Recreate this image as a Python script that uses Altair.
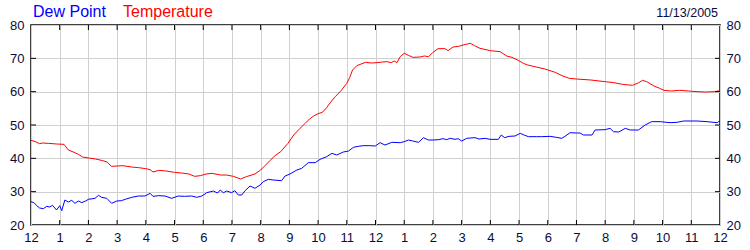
import altair as alt
import pandas as pd

# ---------------- data ----------------
temp_hours = [0.0, 0.15, 0.3, 0.4, 0.6, 0.9, 1.15, 1.3, 1.5, 1.65, 1.8, 2.0, 2.25, 2.5, 2.65, 2.8,
              3.0, 3.2, 3.5, 3.75, 4.0, 4.15, 4.25, 4.45, 4.7, 5.0, 5.25, 5.5, 5.7, 5.9, 6.1, 6.3,
              6.6, 6.8, 7.05, 7.3, 7.5, 7.8, 8.0, 8.15, 8.33, 8.5, 8.7, 8.95, 9.15, 9.37, 9.55, 9.7,
              9.85, 10.0, 10.15, 10.3, 10.45, 10.6, 10.8, 11.0, 11.1, 11.2, 11.35, 11.5, 11.65, 11.85,
              12.05, 12.25, 12.4, 12.55, 12.65, 12.75, 12.86, 13.0, 13.15, 13.3, 13.55, 13.7, 13.85,
              14.0, 14.18, 14.42, 14.53, 14.7, 14.9, 15.05, 15.3, 15.45, 15.64, 15.85, 16.0, 16.34,
              16.57, 16.75, 16.97, 17.15, 17.3, 17.6, 17.9, 18.26, 18.5, 18.75, 19.0, 19.5, 20.0,
              20.3, 20.6, 20.95, 21.15, 21.3, 21.45, 21.7, 21.9, 22.05, 22.3, 22.6, 22.9, 23.2, 23.5,
              23.8, 24.0]
temp_values = [45.4, 45.0, 44.4, 44.6, 44.5, 44.3, 44.2, 42.5, 41.8, 41.2, 40.4, 40.1, 39.8, 39.3, 38.9, 37.6,
               37.7, 37.8, 37.4, 37.2, 36.9, 36.6, 35.9, 36.4, 36.2, 35.8, 35.6, 35.3, 34.6, 34.8, 35.3, 35.5,
               35.0, 35.0, 34.6, 33.8, 34.5, 35.3, 36.5, 37.8, 39.4, 40.8, 42.0, 44.5, 47.0, 49.0, 50.5, 51.8,
               52.7, 53.4, 53.8, 55.2, 57.0, 58.5, 60.3, 62.5, 64.2, 66.5, 67.8, 68.3, 68.8, 68.6,
               68.7, 68.9, 69.0, 68.7, 69.2, 68.7, 70.5, 71.5, 70.9, 70.3, 70.4, 70.7, 70.5,
               71.8, 72.9, 72.9, 72.3, 73.4, 73.6, 74.0, 74.5, 73.8, 73.0, 72.6, 72.3, 72.0,
               70.7, 70.3, 69.4, 68.5, 68.0, 67.4, 66.8, 65.8, 64.8, 64.0, 63.8, 63.5, 63.0,
               62.7, 62.2, 61.9, 62.6, 63.4, 63.0, 61.7, 61.0, 60.4, 60.2, 60.4, 60.2, 60.0, 59.9,
               60.0, 60.3]

dew_hours = [0.0, 0.1, 0.2, 0.3, 0.43, 0.55, 0.65, 0.75, 0.89, 1.0, 1.07, 1.18, 1.3, 1.42, 1.53, 1.65,
             1.77, 1.9, 2.0, 2.23, 2.35, 2.46, 2.64, 2.81, 2.99, 3.15, 3.28, 3.51, 3.74, 3.97, 4.15,
             4.25, 4.45, 4.67, 4.9, 5.13, 5.35, 5.6, 5.77, 5.95, 6.06, 6.12, 6.35, 6.5, 6.59, 6.7,
             6.82, 6.99, 7.1, 7.22, 7.34, 7.46, 7.63, 7.8, 7.98, 8.09, 8.27, 8.44, 8.73, 8.85, 9.02,
             9.26, 9.43, 9.66, 9.9, 10.07, 10.3, 10.48, 10.65, 10.88, 11.06, 11.23, 11.4, 11.58, 11.8,
             11.99, 12.16, 12.33, 12.57, 12.86, 13.0, 13.15, 13.3, 13.5, 13.67, 13.84, 14.0, 14.2,
             14.35, 14.48, 14.6, 14.77, 14.88, 15.0, 15.18, 15.3, 15.47, 15.6, 15.82, 15.99, 16.28,
             16.38, 16.5, 16.65, 16.86, 17.04, 17.2, 17.33, 17.6, 17.79, 18.08, 18.3, 18.49, 18.6,
             18.78, 19.0, 19.13, 19.24, 19.54, 19.65, 20.0, 20.17, 20.29, 20.47, 20.7, 20.87, 21.16,
             21.39, 21.62, 21.92, 22.26, 22.5, 22.73, 23.2, 23.55, 23.9, 24.0]
dew_values = [27.0, 26.7, 25.8, 25.1, 24.9, 25.6, 25.4, 25.9, 24.5, 25.8, 24.3, 27.5, 26.9, 27.4, 26.5, 27.2,
              26.7, 27.2, 27.7, 28.0, 28.9, 28.3, 28.0, 26.5, 27.2, 27.3, 27.7, 28.3, 28.7, 28.7, 29.5,
              28.6, 28.8, 28.7, 28.0, 28.7, 28.6, 28.7, 28.3, 28.7, 29.3, 29.7, 30.2, 29.6, 30.5, 29.7,
              30.2, 29.7, 30.3, 29.0, 29.0, 30.3, 31.7, 31.0, 32.0, 33.0, 33.7, 33.5, 33.3, 34.7, 35.3,
              36.5, 37.0, 38.7, 38.7, 39.7, 40.5, 41.5, 41.0, 41.9, 42.2, 43.3, 43.6, 43.8, 43.8,
              43.7, 44.7, 44.0, 44.8, 44.7, 45.0, 45.5, 45.2, 44.8, 46.2, 45.5, 45.5, 45.6,
              45.9, 45.6, 46.0, 45.7, 45.9, 45.2, 46.0, 46.1, 46.2, 45.8, 46.0, 45.7, 45.7,
              47.0, 46.2, 46.6, 46.7, 47.5, 46.9, 46.5, 46.5, 46.5, 46.6, 46.3, 46.0, 46.6,
              47.7, 47.6, 47.6, 47.0, 47.0, 48.5, 48.6, 49.0, 48.0, 47.9, 49.0, 48.5, 48.5,
              50.0, 51.0, 51.0, 50.7, 50.8, 51.2, 51.2, 51.0, 50.7, 51.3]

hour_ticks = list(range(0, 25))
inner_hour_ticks = list(range(1, 24))
y_ticks = [20, 30, 40, 50, 60, 70, 80]
inner_y_ticks = [30, 40, 50, 60, 70]
series_labels = ["Dew Point", "Temperature"]
date_label = "11/13/2005"

temp_df = pd.DataFrame({"h": temp_hours, "v": temp_values})
dew_df = pd.DataFrame({"h": dew_hours, "v": dew_values})
hx_df = pd.DataFrame({"h": inner_hour_ticks})
vy_df = pd.DataFrame({"v": inner_y_ticks})

FONT = "Liberation Sans"
LABEL_COLOR = "#0b0b3b"
GRID = "#d0d0d0"

xscale = alt.Scale(domain=[0, 24], nice=False, zero=False)
yscale = alt.Scale(domain=[20, 80], nice=False, zero=False)

x_axis = alt.Axis(values=hour_ticks,
                  labelExpr="datum.value % 12 == 0 ? '12' : '' + (datum.value % 12)",
                  title=None, domain=False, ticks=False, grid=True, gridColor=GRID,
                  labelPadding=6, labelFontSize=13, labelFont=FONT, labelColor=LABEL_COLOR,
                  labelFlush=False, labelOverlap=False)
y_left = alt.Axis(values=y_ticks, orient="left", title=None, domain=False, ticks=False,
                  grid=True, gridColor=GRID, labelPadding=7, labelFontSize=13, labelFont=FONT,
                  labelColor=LABEL_COLOR, labelFlush=False)
y_right = alt.Axis(values=y_ticks, orient="right", title=None, domain=False, ticks=False,
                   grid=False, labelPadding=6, labelFontSize=13, labelFont=FONT,
                   labelColor=LABEL_COLOR, labelFlush=False)

X = alt.X("h:Q", scale=xscale, axis=x_axis)

temp_line = alt.Chart(temp_df).mark_line(color="#ff0000", strokeWidth=1).encode(
    x=X,
    y=alt.Y("v:Q", scale=yscale, axis=y_left),
)
dew_line = alt.Chart(dew_df).mark_line(color="#0000ff", strokeWidth=1).encode(
    x=X,
    y=alt.Y("v:Q", scale=yscale, axis=y_right),
)

# inward tick marks on the frame
top_ticks = alt.Chart(hx_df).mark_rule(color="black", strokeWidth=1).encode(
    x=X, y=alt.value(0), y2=alt.value(5))
bottom_ticks = alt.Chart(hx_df).mark_rule(color="black", strokeWidth=1).encode(
    x=X, y=alt.value(200), y2=alt.value(195))
left_ticks = alt.Chart(vy_df).mark_rule(color="black", strokeWidth=1).encode(
    y=alt.Y("v:Q", scale=yscale, axis=None), x=alt.value(0), x2=alt.value(5))
right_ticks = alt.Chart(vy_df).mark_rule(color="black", strokeWidth=1).encode(
    y=alt.Y("v:Q", scale=yscale, axis=None), x=alt.value(689), x2=alt.value(684))

dew_text = alt.Chart(pd.DataFrame({"t": [series_labels[0]]})).mark_text(
    align="left", baseline="alphabetic", font=FONT, fontSize=16, color="#0000ff").encode(
    x=alt.value(2), y=alt.value(-8), text="t:N")
temp_text = alt.Chart(pd.DataFrame({"t": [series_labels[1]]})).mark_text(
    align="left", baseline="alphabetic", font=FONT, fontSize=16, color="#ff0000").encode(
    x=alt.value(92), y=alt.value(-8), text="t:N")
date_text = alt.Chart(pd.DataFrame({"t": [date_label]})).mark_text(
    align="right", baseline="alphabetic", font=FONT, fontSize=12.5, color=LABEL_COLOR).encode(
    x=alt.value(687), y=alt.value(-8), text="t:N")

chart = alt.layer(
    temp_line, dew_line, top_ticks, bottom_ticks, left_ticks, right_ticks,
    dew_text, temp_text, date_text
).resolve_axis(y="independent").properties(
    width=689, height=200,
    padding={"left": 31, "top": 25, "right": 30, "bottom": 25},
    autosize=alt.AutoSizeParams(type="none"),
    background="white",
).configure_view(stroke="black", strokeWidth=1.5)

chart.save("out.html", embed_options={"renderer": "svg", "actions": False})
